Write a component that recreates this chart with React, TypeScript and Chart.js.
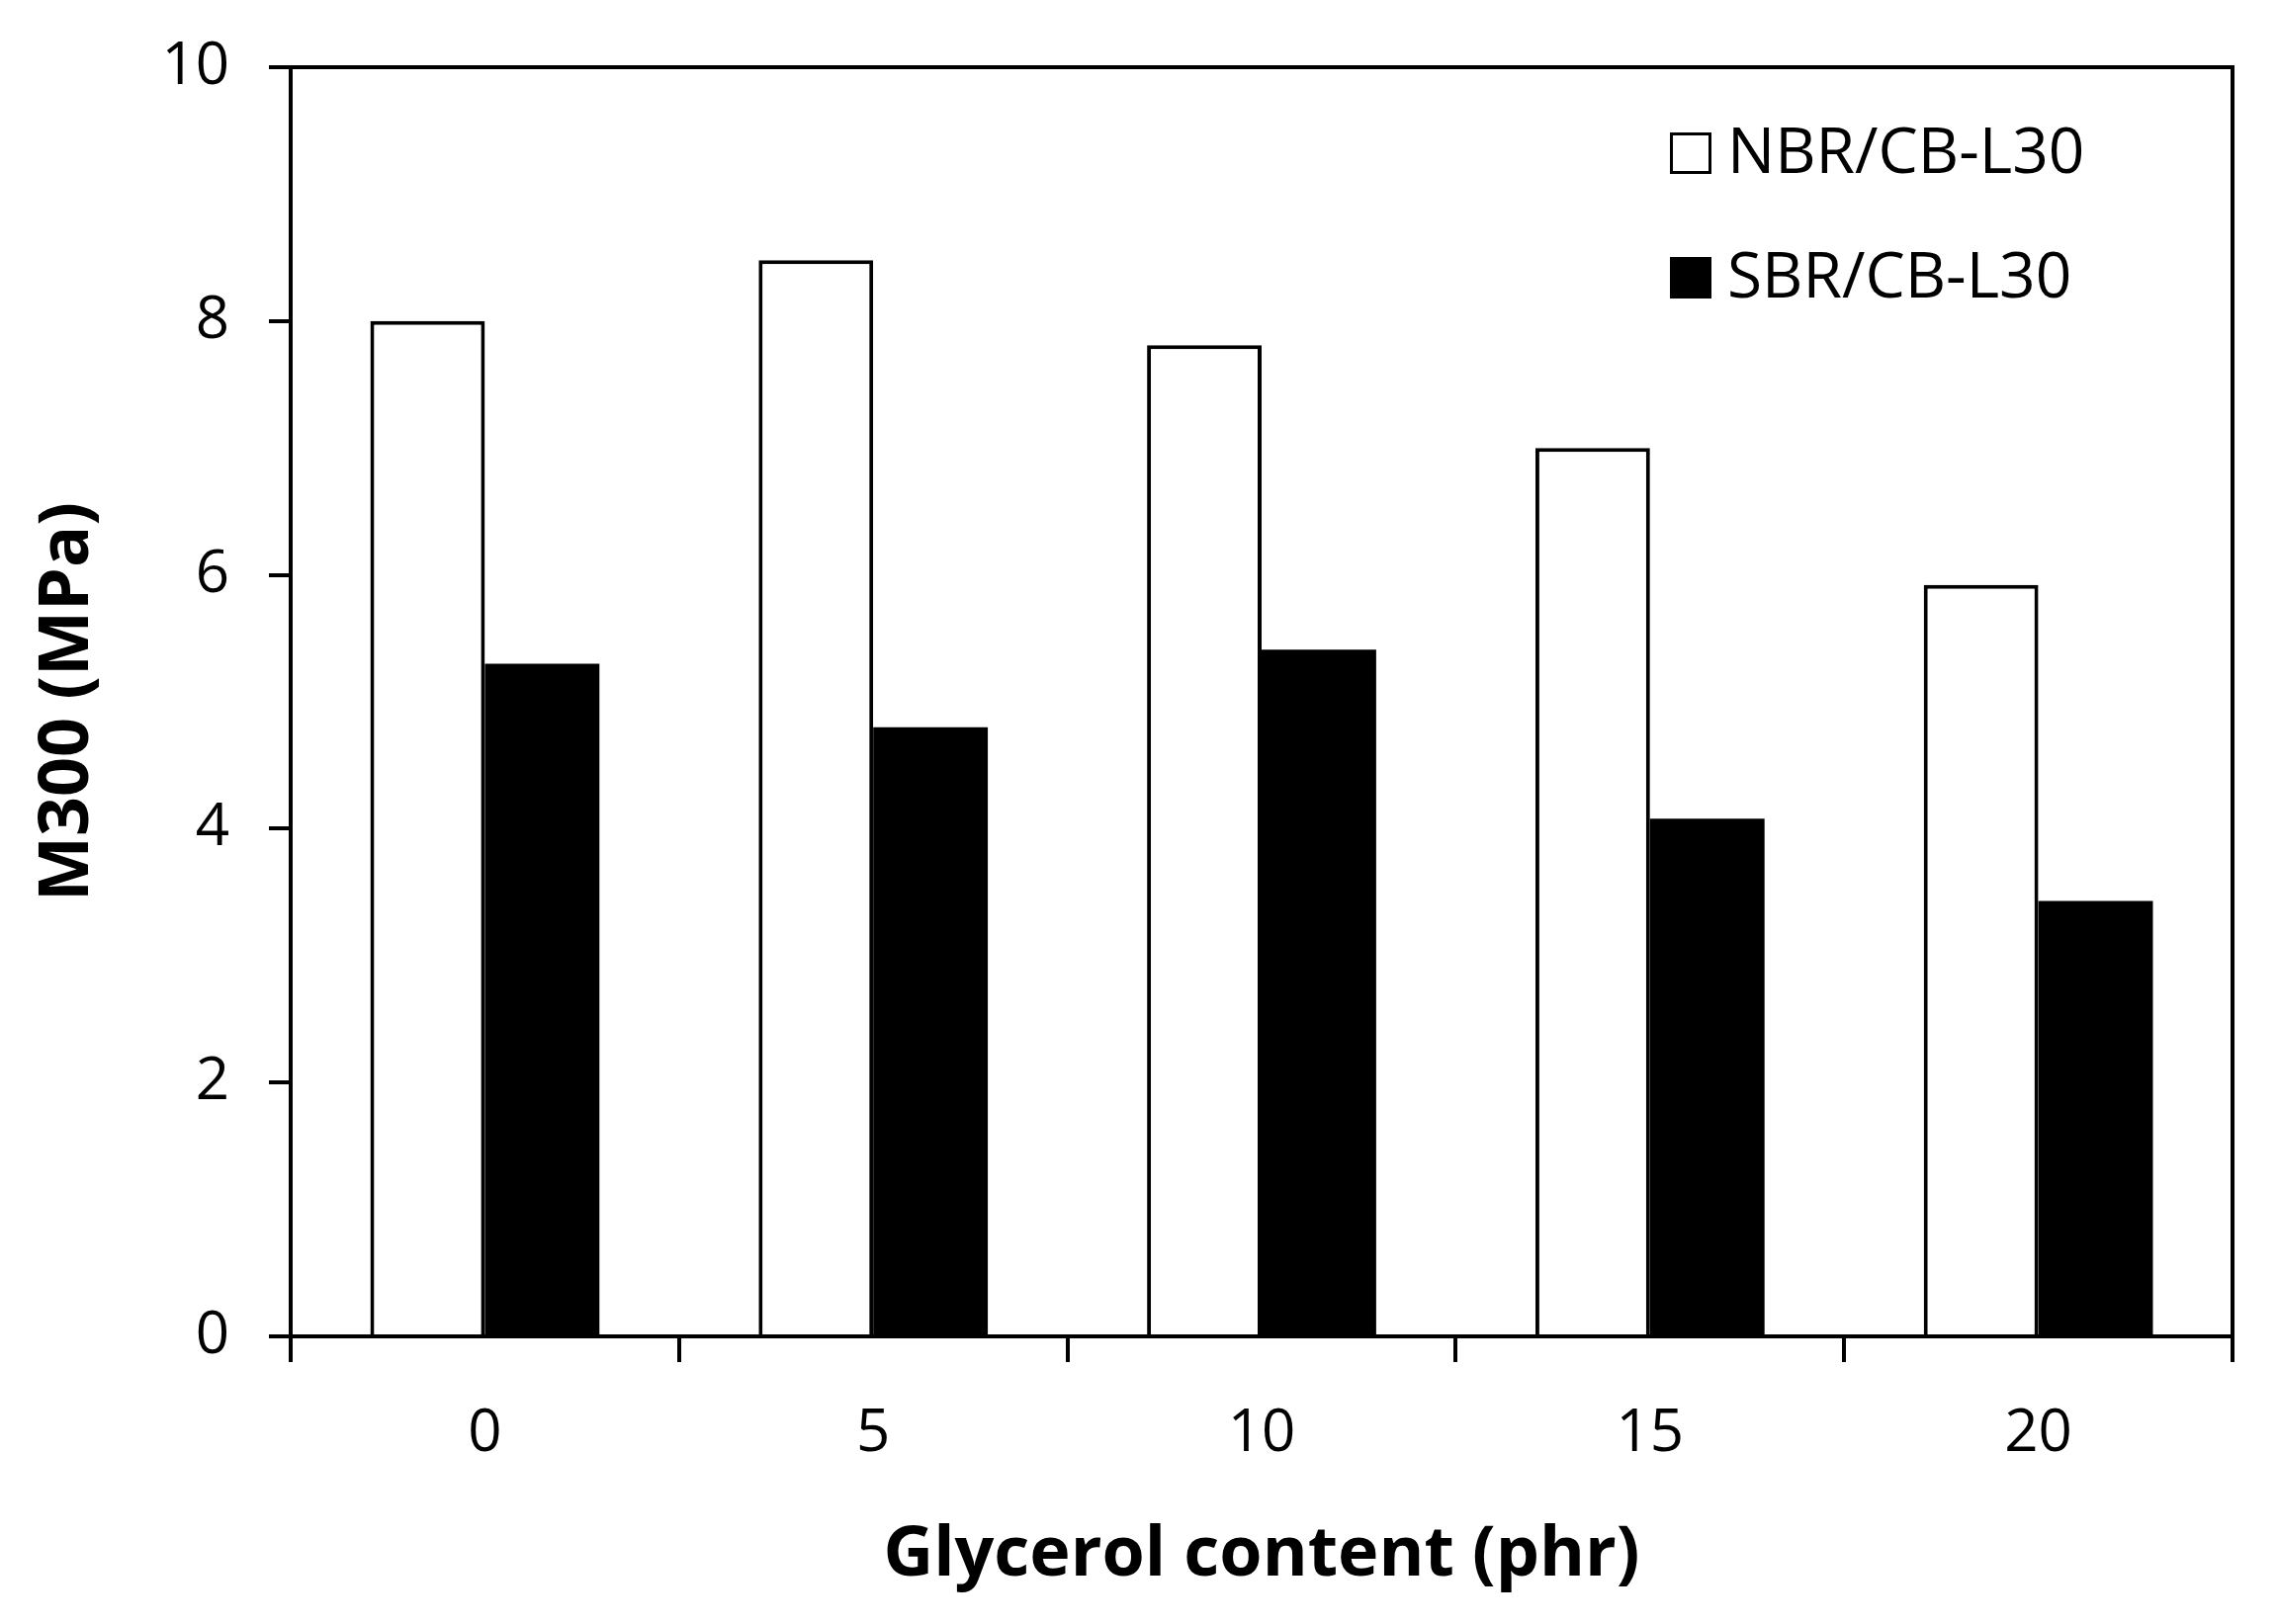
import React, { useEffect, useRef } from "react";
import { Chart, registerables } from "chart.js";

Chart.register(...registerables);

const categories = ["0", "5", "10", "15", "20"];
const seriesLabels = ["NBR/CB-L30", "SBR/CB-L30"];
const nbrValues = [8.0, 8.48, 7.81, 7.0, 5.92];
const sbrValues = [5.3, 4.8, 5.41, 4.08, 3.43];
const yTicks = [0, 2, 4, 6, 8, 10];
const xTitle = "Glycerol content (phr)";
const yTitle = "M300 (MPa)";

const FONT = "'Open Sans', 'DejaVu Sans', sans-serif";

const frameAndLegend = {
  id: "frameAndLegend",
  afterDraw(chart: any) {
    const { ctx, chartArea } = chart;
    ctx.save();
    ctx.strokeStyle = "#000";
    ctx.lineWidth = 4;
    ctx.strokeRect(chartArea.left, chartArea.top, chartArea.right - chartArea.left, chartArea.bottom - chartArea.top);

    // legend
    const items = chart.data.datasets;
    const boxX = 1689;
    const boxSize = 42;
    const rows = [155, 281];
    ctx.font = `64px ${FONT}`;
    ctx.textBaseline = "middle";
    ctx.textAlign = "left";
    items.forEach((ds: any, i: number) => {
      const cy = rows[i];
      ctx.fillStyle = ds.backgroundColor;
      ctx.fillRect(boxX, cy - boxSize / 2, boxSize, boxSize);
      ctx.lineWidth = 3;
      ctx.strokeStyle = "#000";
      ctx.strokeRect(boxX + 1.5, cy - boxSize / 2 + 1.5, boxSize - 3, boxSize - 3);
      ctx.fillStyle = "#000";
      ctx.fillText(ds.label, 1747, cy + 2);
    });
    ctx.restore();
  },
};

export default function App() {
  const ref = useRef<HTMLCanvasElement | null>(null);

  useEffect(() => {
    document.body.style.margin = "0";
    const canvas = ref.current!;
    const chart = new Chart(canvas, {
      type: "bar",
      data: {
        labels: categories,
        datasets: [
          {
            label: seriesLabels[0],
            data: nbrValues,
            backgroundColor: "#ffffff",
            borderColor: "#000000",
            borderWidth: 4,
            categoryPercentage: 0.59,
            barPercentage: 1,
          },
          {
            label: seriesLabels[1],
            data: sbrValues,
            backgroundColor: "#000000",
            borderColor: "#000000",
            borderWidth: 0,
            categoryPercentage: 0.59,
            barPercentage: 1,
          },
        ],
      },
      options: {
        responsive: false,
        animation: false,
        devicePixelRatio: 1,
        layout: { autoPadding: false, padding: { left: 0, right: 46, top: 68, bottom: 0 } },
        plugins: {
          legend: { display: false },
          tooltip: { enabled: false },
        },
        scales: {
          x: {
            offset: true,
            grid: {
              offset: true,
              drawOnChartArea: false,
              color: "#000",
              lineWidth: 4,
              tickLength: 26,
              tickWidth: 4,
            },
            border: { display: false },
            ticks: {
              color: "#000",
              font: { family: FONT, size: 60 },
              padding: 37,
              maxRotation: 0,
            },
            title: {
              display: true,
              text: xTitle,
              color: "#000",
              font: { family: FONT, size: 70, weight: "bold" },
              padding: { top: 0, bottom: 27 },
            },
            afterFit(scale: any) {
              scale.height = 291;
            },
          },
          y: {
            min: 0,
            max: 10,
            afterBuildTicks(scale: any) {
              scale.ticks = yTicks.map((v) => ({ value: v }));
            },
            grid: {
              drawOnChartArea: false,
              color: "#000",
              lineWidth: 4,
              tickLength: 22,
              tickWidth: 4,
            },
            border: { display: false },
            ticks: {
              color: "#000",
              font: { family: FONT, size: 60, lineHeight: 1 },
              padding: 30,
              callback: (v: any) => String(v) + "\u2009",
            },
            title: {
              display: true,
              text: yTitle,
              color: "#000",
              font: { family: FONT, size: 70, weight: "bold" },
              padding: { top: 27, bottom: 0 },
            },
            afterFit(scale: any) {
              scale.width = 294;
              scale.paddingTop = 0;
              scale.paddingBottom = 0;
            },
          },
        },
      },
      plugins: [frameAndLegend],
    });
    return () => chart.destroy();
  }, []);

  return (
    <div style={{ position: "absolute", left: 0, top: 0, width: 2304, height: 1643, background: "#fff" }}>
      <canvas ref={ref} width={2304} height={1643} style={{ width: 2304, height: 1643, display: "block" }} />
    </div>
  );
}
